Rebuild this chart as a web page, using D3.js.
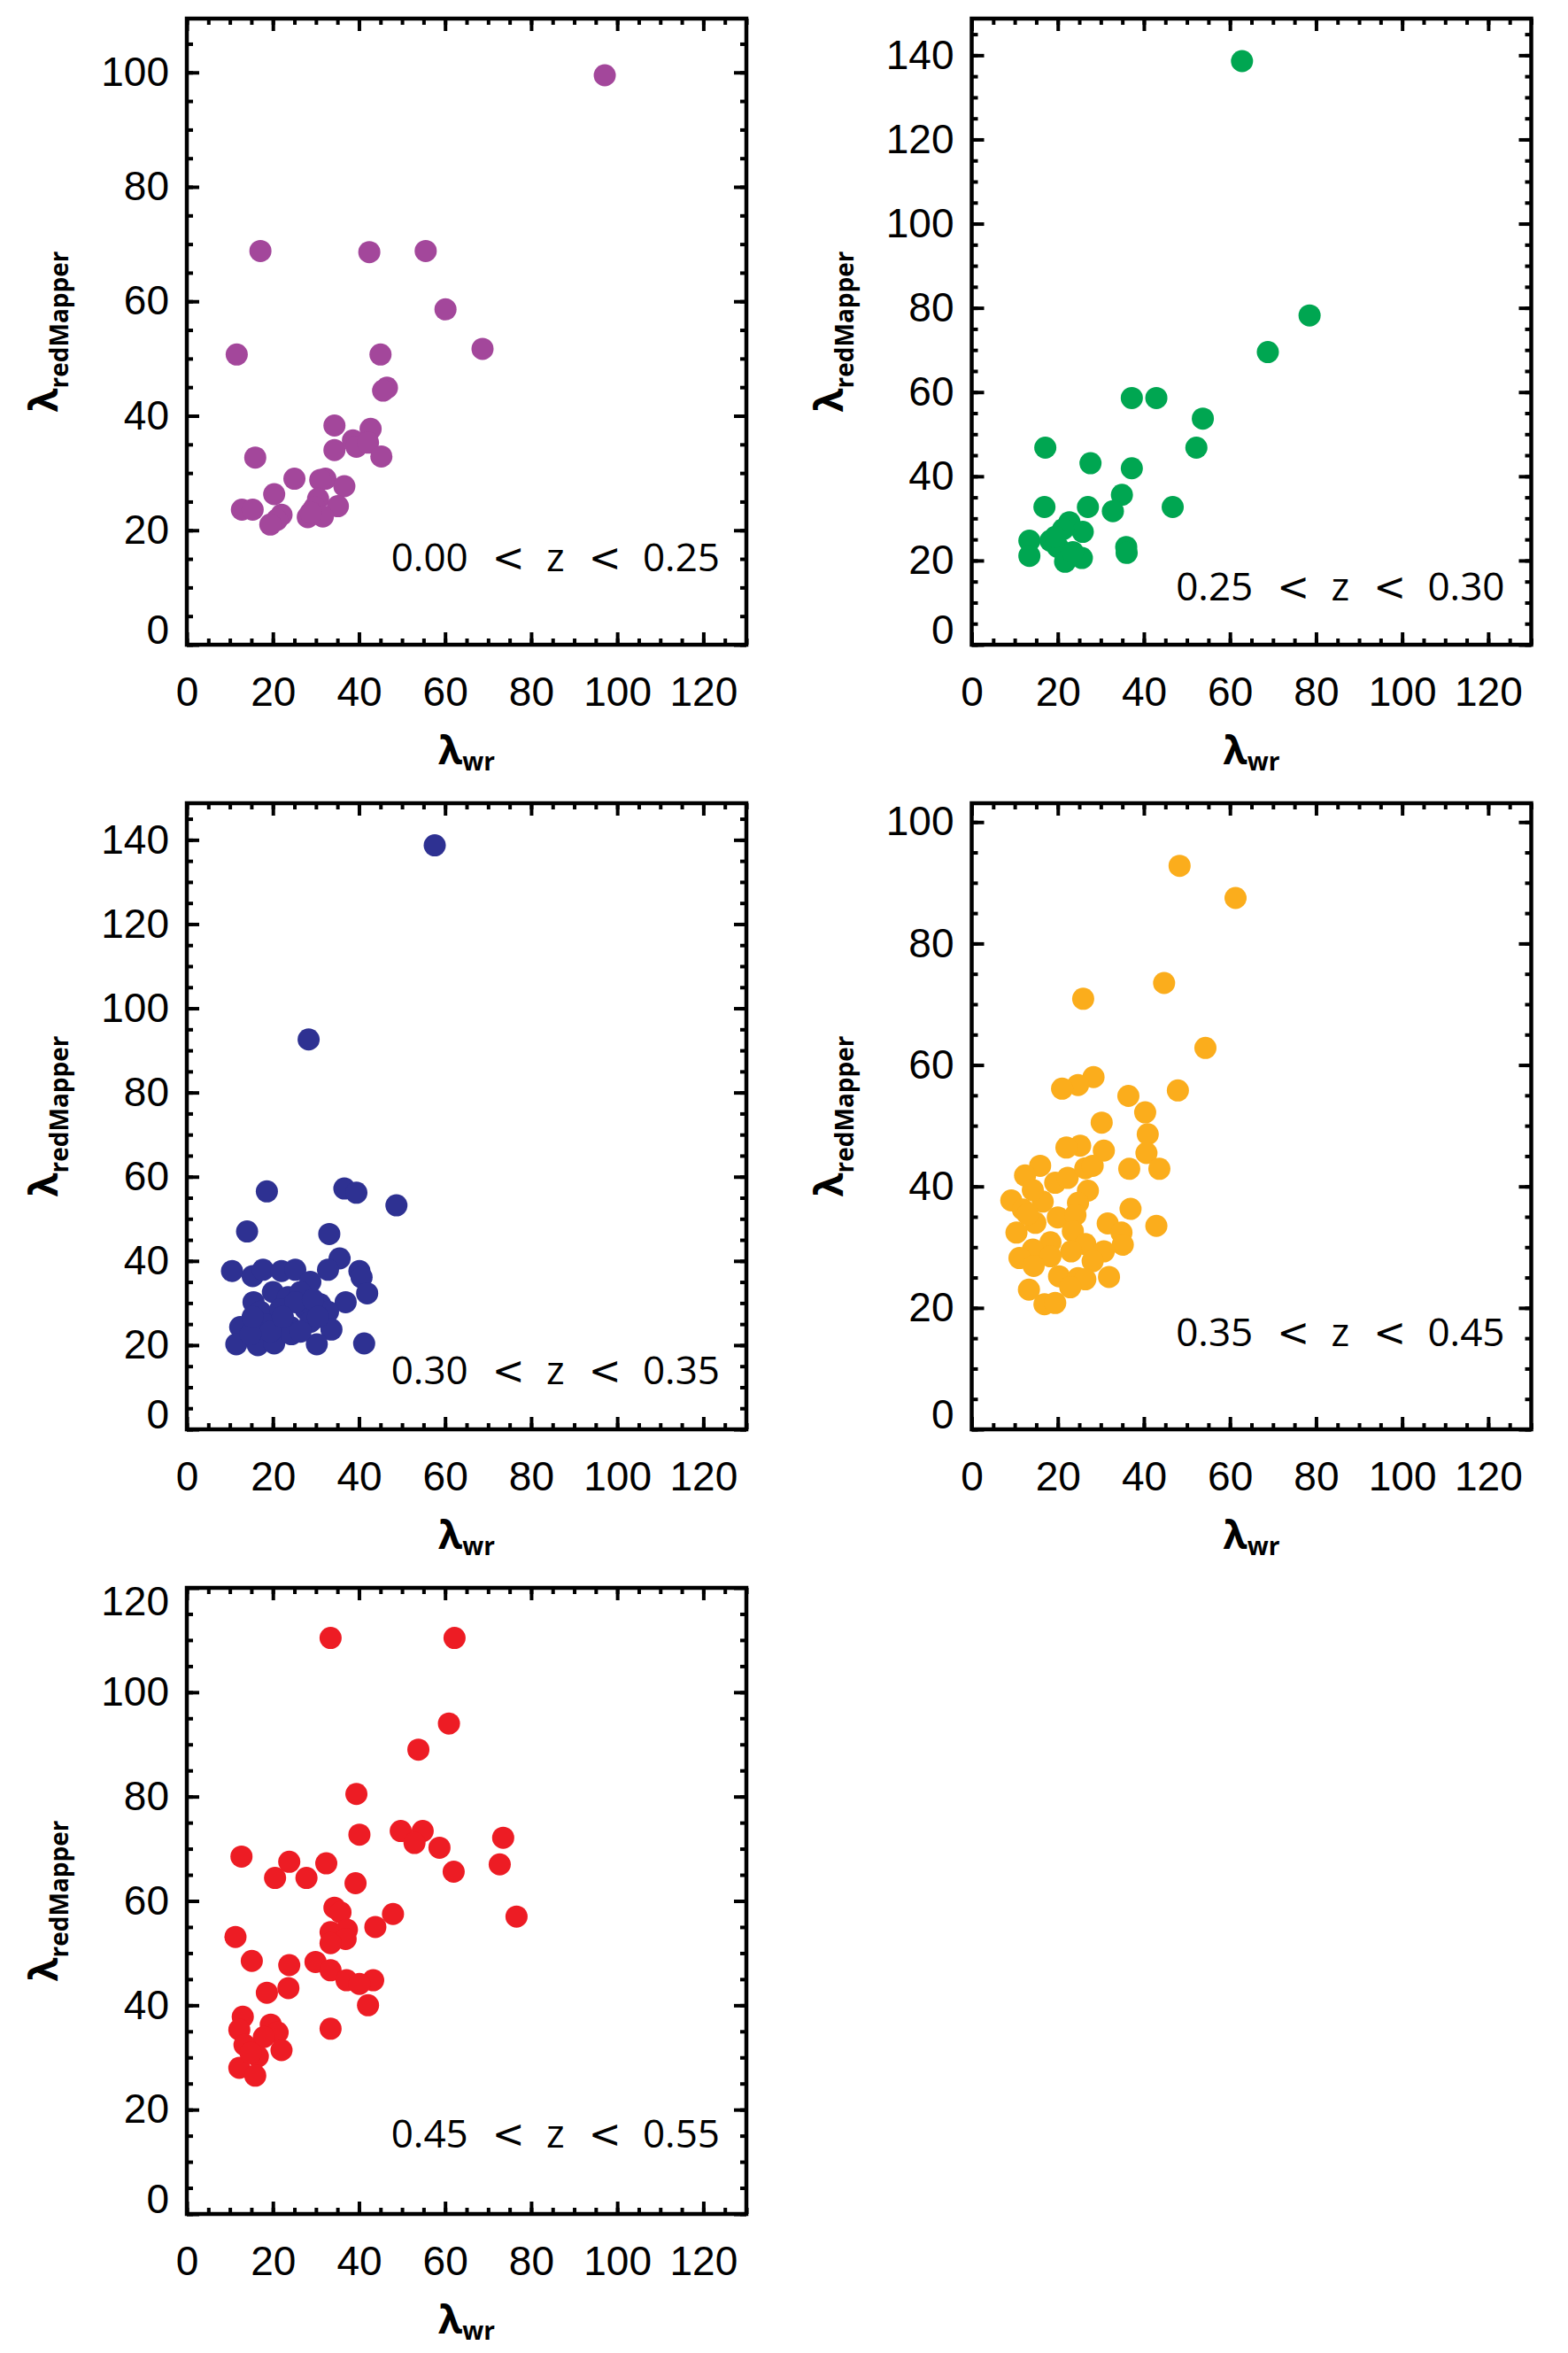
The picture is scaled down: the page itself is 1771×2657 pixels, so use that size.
<!DOCTYPE html>
<meta charset="utf-8">
<style>
body { margin: 0; background: #fff; }
svg { font-family: "Open Sans", "Liberation Sans", sans-serif; }
.tick line { stroke: #000; stroke-width: 4; }
.frame { fill: none; stroke: #000; stroke-width: 4.5; }
</style>
<script src="https://cdnjs.cloudflare.com/ajax/libs/d3/7.8.5/d3.min.js"></script>
<body>
<svg id="fig" width="1771" height="2657"></svg>
<script>

// lambda_wr vs lambda_redMapper, one array per redshift bin
var bin1 = [[97.1,99.5],[17.1,68.8],[42.4,68.6],[55.5,68.8],[60.1,58.6],[68.7,51.7],[11.6,50.7],[45.0,50.7],
  [46.5,44.9],[45.6,44.4],[34.3,38.3],[42.7,37.7],[34.3,34.0],[38.6,35.7],[39.4,34.6],[42.1,35.3],[45.2,32.9],
  [15.9,32.7],[25.0,29.0],[32.2,29.0],[31.0,28.8],[36.6,27.7],[20.3,26.3],[30.5,25.5],[35.1,24.2],[29.7,24.0],
  [12.8,23.6],[15.3,23.6],[22.0,22.7],[20.9,21.8],[19.4,21.0],[28.1,22.3],[31.6,22.4],[28.8,23.1]];

var bin2 = [[62.8,138.6],[78.5,78.2],[68.8,69.5],[37.2,58.6],[42.9,58.6],[53.7,53.7],[52.2,46.8],[17.1,46.8],
  [27.6,43.1],[37.2,41.9],[34.9,35.6],[32.8,31.7],[27.0,32.7],[46.7,32.7],[16.9,32.7],[22.7,29.1],[25.8,26.8],
  [21.2,27.4],[13.4,24.7],[18.3,24.7],[20.0,23.2],[13.4,21.1],[21.7,19.7],[25.6,20.6],[35.9,23.2],[36.0,21.8],
  [23.5,22.0],[19.4,25.6]];

var bin3 = [[57.6,138.7],[28.3,92.6],[18.6,56.5],[36.6,57.2],[39.4,56.2],[48.7,53.2],[14.0,47.0],[33.1,46.4],
  [10.5,37.6],[35.5,40.6],[32.8,37.9],[40.1,37.6],[40.6,36.1],[41.9,32.3],[36.9,30.2],[15.3,36.4],[17.7,37.9],
  [22.0,37.6],[25.2,37.9],[28.7,35.0],[20.0,32.6],[15.5,30.2],[23.5,31.4],[26.4,32.6],[31.0,29.7],[32.8,27.9],
  [17.1,27.9],[21.7,28.5],[27.6,28.5],[12.4,24.3],[18.3,24.9],[24.1,24.3],[28.7,25.5],[33.6,23.7],[11.5,20.2],
  [16.5,20.0],[20.3,20.4],[24.3,22.6],[30.2,20.2],[41.2,20.4],[26.4,23.2],[19.4,23.2],[14.8,22.6],[25.2,30.2],
  [29.3,30.8],[22.3,26.7],[15.3,26.7],[30.5,26.7]];

var bin4 = [[48.3,92.8],[61.3,87.5],[44.7,73.5],[25.9,70.9],[54.3,62.8],[28.3,58.0],[24.7,56.7],[21.0,56.1],
  [47.9,55.8],[36.4,54.9],[40.3,52.2],[30.2,50.5],[40.9,48.6],[25.2,46.7],[22.0,46.4],[30.7,45.9],[40.6,45.5],
  [36.6,42.9],[43.6,42.9],[15.9,43.4],[12.4,41.8],[19.4,40.6],[22.3,41.4],[26.4,43.0],[28.1,43.4],[27.0,39.3],
  [9.2,37.7],[16.5,37.5],[24.7,37.3],[36.9,36.3],[11.9,36.2],[20.0,34.9],[24.1,35.3],[14.8,34.0],[31.6,33.9],
  [42.9,33.5],[10.4,32.4],[23.5,32.6],[34.8,32.4],[18.3,30.8],[26.4,30.5],[35.1,30.4],[14.2,29.6],[23.1,29.3],
  [30.7,29.3],[11.1,28.2],[18.3,28.5],[14.4,26.9],[28.1,27.7],[20.3,25.2],[24.7,24.9],[26.4,24.7],[31.9,25.1],
  [22.9,23.4],[13.3,23.0],[16.9,20.6],[19.4,20.8],[13.0,35.4],[14.2,39.4]];

var bin5 = [[33.4,110.4],[62.2,110.4],[60.9,94.0],[53.8,89.0],[39.4,80.5],[40.1,72.7],[49.7,73.4],[54.8,73.4],
  [52.9,71.1],[58.7,70.2],[73.5,72.1],[72.7,67.0],[62.0,65.6],[76.6,57.0],[12.7,68.5],[23.8,67.5],[32.4,67.2],
  [20.5,64.4],[27.8,64.4],[39.2,63.4],[34.3,58.7],[35.7,57.8],[47.9,57.5],[43.8,55.0],[33.4,54.0],[37.2,54.5],
  [36.9,52.7],[33.4,51.9],[11.3,53.1],[15.1,48.5],[23.8,47.7],[29.9,48.3],[33.4,46.7],[37.1,44.8],[43.3,44.8],
  [40.1,44.1],[23.6,43.3],[18.6,42.4],[42.1,40.0],[13.0,37.8],[33.4,35.5],[12.2,35.3],[19.5,36.3],[21.1,34.8],
  [17.9,33.9],[13.4,32.4],[22.0,31.4],[16.5,30.2],[12.2,28.0],[15.9,26.5],[14.8,30.9]];

var bins = [bin1, bin2, bin3, bin4, bin5];
var binLabels = ["0.00 < z < 0.25", "0.25 < z < 0.30", "0.30 < z < 0.35", "0.35 < z < 0.45", "0.45 < z < 0.55"];
var colors = ["#a3479b", "#00a651", "#2e3192", "#fbad1c", "#ed1c24"];

var xMax = 130;
var xTicks = [0, 20, 40, 60, 80, 100, 120];
var yMaxes = [109.4, 148.7, 148.7, 103.1, 120];
var yTicks = [
  [0, 20, 40, 60, 80, 100],
  [0, 20, 40, 60, 80, 100, 120, 140],
  [0, 20, 40, 60, 80, 100, 120, 140],
  [0, 20, 40, 60, 80, 100],
  [0, 20, 40, 60, 80, 100, 120]
];

// layout
var W = 632, H = 707;
var left0 = 211, colStep = 886.5, top0 = 21, rowStep = 886;
var labelBase = [624, 657, 656, 613, 632];   // baseline of the z label from panel top
var R = 12.5;

var svg = d3.select("#fig");
svg.append("rect").attr("width", 1771).attr("height", 2657).attr("fill", "#fff");

bins.forEach(function(data, i) {
  var col = i % 2, row = Math.floor(i / 2);
  var g = svg.append("g")
      .attr("transform", "translate(" + (left0 + col * colStep) + "," + (top0 + row * rowStep) + ")");

  var yMax = yMaxes[i];
  var x = d3.scaleLinear().domain([0, xMax]).range([0, W]);
  var y = d3.scaleLinear().domain([0, yMax]).range([H, 0]);

  g.append("g").selectAll("circle")
    .data(data)
    .join("circle")
      .attr("cx", function(d) { return x(d[0]); })
      .attr("cy", function(d) { return y(d[1]); })
      .attr("r", R)
      .attr("fill", colors[i]);

  var minorX = d3.range(0, xMax + 0.1, 5);
  var minorY = d3.range(0, yMax, 5);

  // minor ticks on all four sides
  g.append("g").attr("transform", "translate(0," + H + ")")
    .call(d3.axisBottom(x).tickValues(minorX).tickSize(-7).tickFormat(""));
  g.append("g")
    .call(d3.axisTop(x).tickValues(minorX).tickSize(-7).tickFormat(""));
  g.append("g")
    .call(d3.axisLeft(y).tickValues(minorY).tickSize(-7).tickFormat(""));
  g.append("g").attr("transform", "translate(" + W + ",0)")
    .call(d3.axisRight(y).tickValues(minorY).tickSize(-7).tickFormat(""));

  // major ticks with labels
  g.append("g").attr("class", "xaxis").attr("transform", "translate(0," + H + ")")
    .call(d3.axisBottom(x).tickValues(xTicks).tickSize(-14).tickPadding(36));
  g.append("g")
    .call(d3.axisTop(x).tickValues(xTicks).tickSize(-14).tickFormat(""));
  g.append("g").attr("class", "yaxis")
    .call(d3.axisLeft(y).tickValues(yTicks[i]).tickSize(-14).tickPadding(20));
  g.append("g").attr("transform", "translate(" + W + ",0)")
    .call(d3.axisRight(y).tickValues(yTicks[i]).tickSize(-14).tickFormat(""));

  g.selectAll(".domain").remove();
  g.selectAll(".tick text")
    .attr("font-family", null)
    .attr("font-size", 46)
    .attr("fill", "#000");
  // end labels are pulled inside the axis range
  g.selectAll(".yaxis .tick text")
    .attr("y", function(d) { return d === 0 ? -16 : (yMax - d < 1 ? 16 : 0); });

  g.append("rect").attr("class", "frame").attr("width", W).attr("height", H);

  // z-bin label, the "<" signs in a wider glyph
  var zt = g.append("text")
    .attr("x", W - 30)
    .attr("y", labelBase[i])
    .attr("text-anchor", "end")
    .attr("font-size", 44)
    .attr("word-spacing", 13)
    .attr("xml:space", "preserve");
  binLabels[i].split(" ").forEach(function(tok, k) {
    zt.append("tspan")
      .attr("font-family", tok === "<" ? "DejaVu Sans" : null)
      .text((k > 0 ? " " : "") + tok);
  });

  // axis titles
  var xt = g.append("text")
    .attr("x", W / 2)
    .attr("y", H + 135)
    .attr("text-anchor", "middle")
    .attr("font-weight", "bold")
    .attr("font-size", 44)
    .text("λ");
  xt.append("tspan").attr("dy", 7).attr("font-size", 28).text("wr");

  var yt = g.append("text")
    .attr("transform", "translate(-146," + (H / 2) + ") rotate(-90)")
    .attr("text-anchor", "middle")
    .attr("font-weight", "bold")
    .attr("font-size", 44)
    .text("λ");
  yt.append("tspan").attr("dy", 12).attr("font-size", 28).text("redMapper");
});

</script>
</body>
